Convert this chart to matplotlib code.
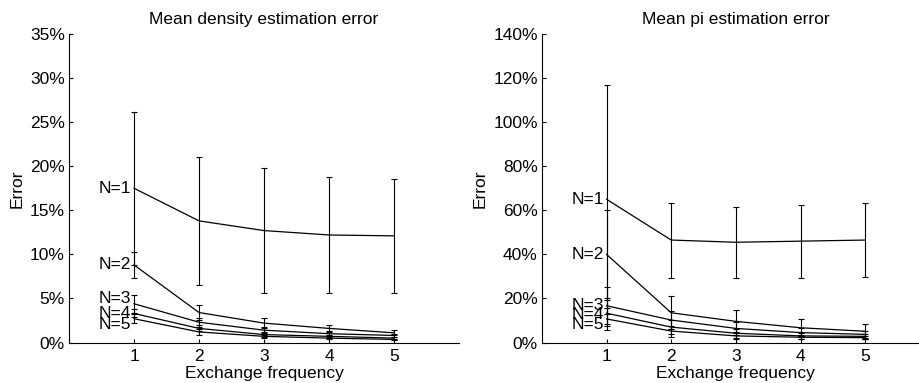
import matplotlib
matplotlib.use("Agg")
import matplotlib.pyplot as plt
import matplotlib.ticker as ticker

plt.rcParams["font.family"] = ["Liberation Sans", "DejaVu Sans"]
plt.rcParams["font.size"] = 12.5

freq = [1, 2, 3, 4, 5]
labels = ["N=1", "N=2", "N=3", "N=4", "N=5"]

# mean density estimation error (%)
dens_mean = [
    [17.5, 13.8, 12.7, 12.2, 12.1],
    [8.8, 3.4, 2.2, 1.6, 1.1],
    [4.4, 2.3, 1.4, 1.0, 0.8],
    [3.3, 1.6, 0.9, 0.7, 0.5],
    [2.7, 1.2, 0.7, 0.5, 0.35],
]
dens_err = [
    [8.7, 7.3, 7.1, 6.6, 6.5],
    [1.45, 0.8, 0.55, 0.4, 0.3],
    [1.0, 0.5, 0.35, 0.25, 0.2],
    [0.45, 0.35, 0.25, 0.2, 0.15],
    [0.5, 0.3, 0.2, 0.15, 0.1],
]
dens_label_y = [17.5, 8.8, 5.0, 3.3, 2.1]

# mean pi estimation error (%)
pi_mean = [
    [65.0, 46.5, 45.5, 46.0, 46.5],
    [40.0, 13.5, 9.6, 6.7, 5.1],
    [16.7, 10.2, 6.4, 4.5, 3.7],
    [13.3, 7.0, 4.2, 3.0, 2.8],
    [10.7, 5.2, 3.0, 2.4, 2.2],
]
pi_err = [
    [52.0, 17.0, 16.0, 16.5, 16.7],
    [20.0, 7.5, 5.0, 3.8, 3.5],
    [8.5, 4.0, 3.0, 2.0, 1.5],
    [6.0, 3.0, 2.0, 1.5, 1.0],
    [5.0, 2.5, 1.5, 1.0, 0.8],
]
pi_label_y = [65.0, 40.0, 17.0, 12.5, 8.0]

fig = plt.figure(figsize=(9.2, 3.83), dpi=100)
ax1 = fig.add_axes([0.075, 0.1057, 0.424, 0.8055])
ax2 = fig.add_axes([0.589, 0.1057, 0.4217, 0.8055])

panels = [
    (ax1, dens_mean, dens_err, dens_label_y, 35, 5, "Mean density estimation error"),
    (ax2, pi_mean, pi_err, pi_label_y, 140, 20, "Mean pi estimation error"),
]

for ax, means, errs, laby, ymax, ystep, title in panels:
    for m, e, lab, ly in zip(means, errs, labels, laby):
        ax.errorbar(freq, m, yerr=e, color="black", linewidth=0.9,
                    elinewidth=0.8, capsize=2.5, capthick=0.8)
        ax.annotate(lab, (1, ly), xytext=(-2, 0), textcoords="offset points",
                    ha="right", va="center")
    ax.set_xlim(0, 6)
    ax.set_ylim(0, ymax)
    ax.set_xticks(freq)
    ax.yaxis.set_major_locator(ticker.MultipleLocator(ystep))
    ax.yaxis.set_major_formatter(ticker.FuncFormatter(lambda v, p: f"{v:.0f}%"))
    ax.spines["top"].set_visible(False)
    ax.spines["right"].set_visible(False)
    ax.tick_params(direction="in", length=3, width=0.8)
    ax.tick_params(axis="y", pad=3)
    ax.tick_params(axis="x", pad=5)
    ax.set_xlabel("Exchange frequency", labelpad=1)
    ax.set_ylabel("Error", labelpad=4)
    ax.set_title(title, pad=7, fontsize=12.5)

plt.savefig("out.png", dpi=100)
